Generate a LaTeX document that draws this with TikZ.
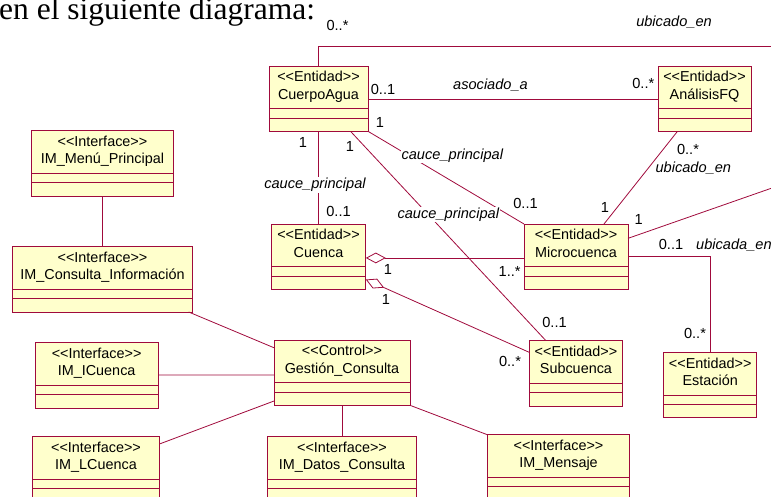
\documentclass[tikz,border=0pt]{standalone}
\usepackage{fontspec}
\setmainfont{Liberation Sans}[Ligatures=TeXOff]
\newfontfamily\docfont{Liberation Serif}
\definecolor{umlred}{RGB}{160,10,60}
\definecolor{umlfill}{RGB}{255,255,204}
\usetikzlibrary{positioning, arrows.meta}

\begin{document}
\begin{tikzpicture}[x=1pt, y=-1pt,
  classhead/.style={draw=umlred, fill=umlfill, line width=1pt, anchor=north west,
    minimum width=#1, minimum height=42.7pt, inner sep=0pt, outer sep=0pt,
    align=center, font=\fontsize{14.4}{17.3}\selectfont,
    execute at begin node={\rule{0pt}{15pt}},
    execute at end node={\rule[-4pt]{0pt}{4pt}}},
  classbody/.style={draw=umlred, fill=umlfill, line width=1pt,
    minimum width=#1, minimum height=22.6pt, inner sep=0pt, outer sep=0pt,
    path picture={\draw[umlred, line width=1pt]
      ([yshift=-9.3pt]path picture bounding box.north west) --
      ([yshift=-9.3pt]path picture bounding box.north east);}},
  assoc/.style={umlred, line width=0.8pt},
  aggr/.style={assoc, {Diamond[open, length=20pt, width=10.7pt]}-},
  mult/.style={font=\fontsize{14.6}{17.5}\selectfont, inner sep=0pt, anchor=base},
  role/.style={font=\fontsize{14.6}{17.5}\selectfont\itshape, fill=white,
    inner sep=1pt, anchor=base},
]
  \path[use as bounding box, clip] (0,0) rectangle (771,496);

  % text of the page above the diagram
  \node[anchor=base west, inner sep=0pt, font=\docfont\fontsize{31.5}{36}\selectfont]
    (intro) at (-1,19) {en el siguiente diagrama:};

  % entity classes
  \node[classhead=99pt] (cuerpo) at (269,66) {<<Entidad>>\\CuerpoAgua};
  \node[classbody=99pt, below=0pt of cuerpo] (cuerpoB) {};
  \node[classhead=93pt] (analisis) at (658,66) {<<Entidad>>\\AnálisisFQ};
  \node[classbody=93pt, below=0pt of analisis] (analisisB) {};
  \node[classhead=94.5pt] (cuenca) at (271.3,224) {<<Entidad>>\\Cuenca};
  \node[classbody=94.5pt, below=0pt of cuenca] (cuencaB) {};
  \node[classhead=104pt] (micro) at (524,224) {<<Entidad>>\\Microcuenca};
  \node[classbody=104pt, below=0pt of micro] (microB) {};
  \node[classhead=93.3pt] (subcuenca) at (529.3,340.7) {<<Entidad>>\\Subcuenca};
  \node[classbody=93.3pt, below=0pt of subcuenca] (subcuencaB) {};
  \node[classhead=93pt] (estacion) at (663.7,352.3) {<<Entidad>>\\Estación};
  \node[classbody=93pt, below=0pt of estacion] (estacionB) {};

  % interface and control classes
  \node[classhead=141.5pt] (menu) at (31.7,130.7) {<<Interface>>\\IM\_Menú\_Principal};
  \node[classbody=141.5pt, below=0pt of menu] (menuB) {};
  \node[classhead=180.4pt] (consulta) at (12.3,246.7) {<<Interface>>\\IM\_Consulta\_Información};
  \node[classbody=180.4pt, below=0pt of consulta] (consultaB) {};
  \node[classhead=136pt] (gestion) at (274,340) {<<Control>>\\Gestión\_Consulta};
  \node[classbody=136pt, below=0pt of gestion] (gestionB) {};
  \node[classhead=123.3pt] (icuenca) at (35,342.7) {<<Interface>>\\IM\_ICuenca};
  \node[classbody=123.3pt, below=0pt of icuenca] (icuencaB) {};
  \node[classhead=126.6pt] (lcuenca) at (32.7,436.7) {<<Interface>>\\IM\_LCuenca};
  \node[classbody=126.6pt, below=0pt of lcuenca] (lcuencaB) {};
  \node[classhead=149.4pt] (datos) at (267.3,436.7) {<<Interface>>\\IM\_Datos\_Consulta};
  \node[classbody=149.4pt, below=0pt of datos] (datosB) {};
  \node[classhead=142.4pt] (mensaje) at (487.3,434.7) {<<Interface>>\\IM\_Mensaje};
  \node[classbody=142.4pt, below=0pt of mensaje] (mensajeB) {};

  % free ends beyond the right border
  \coordinate (offTop) at (780,46);
  \coordinate (offMid) at (780,185.2);

  % associations between entities
  \draw[assoc] (cuerpo.north) |- (offTop);
  \draw[assoc] ([yshift=-12pt]cuerpo.east) -- ([yshift=-12pt]analisis.west);
  \draw[assoc] (cuerpoB.south) -- (cuenca.north);
  \draw[assoc] (cuerpoB.south east) -- (micro.north west);
  \draw[assoc] ([xshift=32pt]cuerpoB.south) -- ([xshift=-30pt]subcuenca.north);
  \draw[assoc] ([xshift=-27pt]analisisB.south) -- ([xshift=28pt]micro.north);
  \draw[assoc] ([yshift=7pt]micro.east) -- (offMid);
  \draw[assoc] ([yshift=-11.4pt]micro.east) -| (estacion.north);
  \draw[aggr] ([yshift=-12.6pt]cuenca.east) -- ([yshift=-12.6pt]micro.west);
  \draw[aggr] ([yshift=-1.5pt]cuencaB.east) -- ([yshift=9.7pt]subcuenca.west);

  % associations of the control class
  \draw[assoc] (menuB.south) -- (consulta.north);
  \draw[assoc] ([xshift=-4pt]consultaB.south east) -- ([yshift=13.6pt]gestion.west);
  \draw[assoc] ([yshift=-11pt]icuenca.east) -- ([yshift=-13.6pt]gestion.west);
  \draw[assoc] ([yshift=14pt]lcuenca.east) -- ([yshift=-7pt]gestionB.west);
  \draw[assoc] (gestionB.south) -- (datos.north);
  \draw[assoc] (gestionB.south east) -- (mensaje.north west);

  % role names
  \node[role] (rTop) at (674,26) {ubicado\_en};
  \node[role] (rAsoc) at (490.5,89.3) {asociado\_a};
  \node[role] (rCauce1) at (315,188.5) {cauce\_principal};
  \node[role] (rCauce2) at (452.3,159.3) {cauce\_principal};
  \node[role] (rCauce3) at (448.3,218.3) {cauce\_principal};
  \node[role] (rUbic) at (693.3,172.7) {ubicado\_en};
  \node[role, anchor=base west] (rUbicada) at (695,249.3) {ubicada\_en};

  % multiplicities
  \node[mult] (mTop) at (337.5,30.7) {0..*};
  \node[mult] (mAsoc1) at (383,94.3) {0..1};
  \node[mult] (mAsoc2) at (643.3,88.3) {0..*};
  \node[mult] (mCauce1a) at (303,147.3) {1};
  \node[mult] (mCauce1b) at (338.5,216.7) {0..1};
  \node[mult] (mCauce2a) at (380,127.7) {1};
  \node[mult] (mCauce2b) at (525.5,208.3) {0..1};
  \node[mult] (mCauce3a) at (350,151.7) {1};
  \node[mult] (mCauce3b) at (554.5,327.3) {0..1};
  \node[mult] (mUbicA) at (688,154.3) {0..*};
  \node[mult] (mUbicB) at (605,212.7) {1};
  \node[mult] (mOff) at (638.8,224) {1};
  \node[mult] (mEst1) at (671,249.3) {0..1};
  \node[mult] (mEst2) at (695,338.3) {0..*};
  \node[mult] (mAgr1a) at (388,274) {1};
  \node[mult] (mAgr1b) at (509.7,276.7) {1..*};
  \node[mult] (mAgr2a) at (386,304) {1};
  \node[mult] (mAgr2b) at (510,366.7) {0..*};
\end{tikzpicture}
\end{document}
